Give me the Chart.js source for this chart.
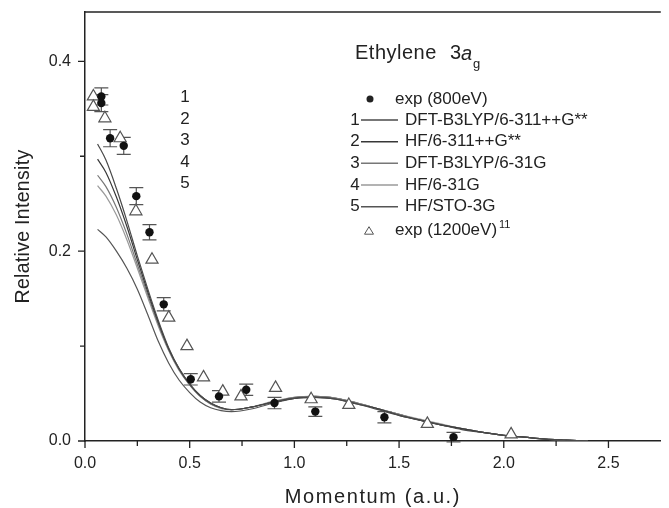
<!DOCTYPE html>
<html>
<head>
<meta charset="utf-8">
<script src="https://cdn.jsdelivr.net/npm/chart.js@4.4.1/dist/chart.umd.min.js"></script>
<style>
  html, body { margin: 0; padding: 0; background: #fff; }
  #wrap { width: 669px; height: 508px; }
</style>
</head>
<body>
<div id="wrap"><canvas id="chart" width="669" height="508"></canvas></div>
<script>
// exp (800eV) with error bars
const exp800X = [0.078, 0.078, 0.12, 0.185, 0.245, 0.308, 0.376, 0.505, 0.64, 0.77, 0.905, 1.10, 1.43, 1.76];
const exp800Y = [0.363, 0.356, 0.319, 0.311, 0.258, 0.220, 0.144, 0.065, 0.047, 0.054, 0.040, 0.031, 0.025, 0.004];
const exp800Err = [0.009, 0.009, 0.009, 0.009, 0.009, 0.008, 0.007, 0.006, 0.006, 0.006, 0.006, 0.005, 0.006, 0.005];

// exp (1200eV), ref. 11
const exp1200X = [0.04, 0.04, 0.095, 0.168, 0.243, 0.32, 0.40, 0.487, 0.566, 0.658, 0.745, 0.91, 1.08, 1.26, 1.635, 2.035];
const exp1200Y = [0.363, 0.352, 0.340, 0.319, 0.242, 0.191, 0.130, 0.100, 0.067, 0.052, 0.047, 0.056, 0.044, 0.038, 0.018, 0.007];

// theory curves, sampled on one momentum grid
const momentum = [0.06, 0.1, 0.15, 0.2, 0.25, 0.3, 0.35, 0.4, 0.45, 0.5, 0.55, 0.6, 0.65, 0.7, 0.8, 0.9, 1.0, 1.1, 1.2, 1.3, 1.4, 1.5, 1.6, 1.7, 1.8, 1.9, 2.0, 2.1, 2.2, 2.3, 2.4];
const dftB3lyp311 = [0.313, 0.296, 0.266, 0.232, 0.195, 0.160, 0.127, 0.098, 0.076, 0.060, 0.048, 0.040, 0.035, 0.033, 0.036, 0.041, 0.045, 0.046, 0.044, 0.039, 0.033, 0.027, 0.022, 0.017, 0.012, 0.009, 0.006, 0.004, 0.002, 0.001, 0.000];
const hf311 = [0.297, 0.283, 0.257, 0.226, 0.191, 0.157, 0.125, 0.097, 0.076, 0.060, 0.048, 0.040, 0.035, 0.033, 0.036, 0.041, 0.045, 0.046, 0.044, 0.039, 0.034, 0.027, 0.022, 0.017, 0.013, 0.009, 0.006, 0.004, 0.002, 0.001, 0.000];
const dftB3lyp31 = [0.280, 0.268, 0.246, 0.218, 0.186, 0.154, 0.123, 0.096, 0.075, 0.059, 0.047, 0.039, 0.035, 0.033, 0.036, 0.041, 0.046, 0.047, 0.045, 0.040, 0.034, 0.028, 0.022, 0.017, 0.013, 0.009, 0.006, 0.004, 0.002, 0.001, 0.000];
const hf31 = [0.269, 0.258, 0.238, 0.212, 0.182, 0.151, 0.121, 0.095, 0.074, 0.059, 0.047, 0.039, 0.034, 0.033, 0.036, 0.042, 0.046, 0.047, 0.045, 0.040, 0.034, 0.028, 0.023, 0.018, 0.013, 0.009, 0.006, 0.004, 0.002, 0.001, 0.000];
const hfSto = [0.223, 0.215, 0.200, 0.182, 0.160, 0.133, 0.105, 0.082, 0.064, 0.051, 0.041, 0.035, 0.032, 0.031, 0.034, 0.040, 0.045, 0.047, 0.045, 0.040, 0.034, 0.028, 0.022, 0.017, 0.013, 0.009, 0.006, 0.004, 0.002, 0.001, 0.000];

const curveNames = ['DFT-B3LYP/6-311++G**', 'HF/6-311++G**', 'DFT-B3LYP/6-31G', 'HF/6-31G', 'HF/STO-3G'];
const curveValues = [dftB3lyp311, hf311, dftB3lyp31, hf31, hfSto];
const curveColors = ['#4a4a4a', '#383838', '#777777', '#9a9a9a', '#555555'];

const xTicks = [0, 0.5, 1.0, 1.5, 2.0, 2.5];
const yTicks = [0, 0.2, 0.4];

const FONT = 'Arial, "Liberation Sans", sans-serif';
const INK = '#222';

const pts = (xs, ys) => xs.map((x, i) => ({ x, y: ys[i] }));

const curveSets = curveValues.map((vals, i) => ({
  label: curveNames[i],
  data: pts(momentum, vals),
  showLine: true,
  borderColor: curveColors[i],
  borderWidth: 1.2,
  pointRadius: 0,
  cubicInterpolationMode: 'monotone',
}));

// keep the plot box fixed: no extra room for edge labels
const fixBox = (s, size) => {
  if (s.isHorizontal()) s.height = size; else s.width = size;
  s.paddingTop = 0; s.paddingBottom = 0; s.paddingLeft = 0; s.paddingRight = 0;
};

const overlay = {
  id: 'overlay',
  beforeDatasetsDraw(chart) {
    const { ctx } = chart;
    const xs = chart.scales.x, ys = chart.scales.y;
    ctx.save();
    ctx.strokeStyle = '#555';
    ctx.lineWidth = 1.2;
    exp800X.forEach((x, i) => {
      const px = xs.getPixelForValue(x);
      const top = ys.getPixelForValue(exp800Y[i] + exp800Err[i]);
      const bot = ys.getPixelForValue(exp800Y[i] - exp800Err[i]);
      ctx.beginPath();
      ctx.moveTo(px, top); ctx.lineTo(px, bot);
      ctx.moveTo(px - 7, top); ctx.lineTo(px + 7, top);
      ctx.moveTo(px - 7, bot); ctx.lineTo(px + 7, bot);
      ctx.stroke();
    });
    ctx.restore();
  },
  afterDraw(chart) {
    const { ctx, chartArea: a } = chart;
    const xs = chart.scales.x, ys = chart.scales.y;
    ctx.save();
    ctx.strokeStyle = INK;
    ctx.lineWidth = 1.5;
    // top frame
    ctx.beginPath();
    ctx.moveTo(a.left, a.top); ctx.lineTo(a.right, a.top);
    ctx.stroke();
    // tick marks, major and minor
    ctx.lineWidth = 1.3;
    ctx.beginPath();
    xTicks.forEach(v => {
      const px = xs.getPixelForValue(v);
      ctx.moveTo(px, a.bottom); ctx.lineTo(px, a.bottom + 7);
      const pm = xs.getPixelForValue(v + 0.25);
      if (pm < a.right) { ctx.moveTo(pm, a.bottom); ctx.lineTo(pm, a.bottom + 5); }
    });
    yTicks.forEach(v => {
      const py = ys.getPixelForValue(v);
      ctx.moveTo(a.left, py); ctx.lineTo(a.left - 7, py);
      const pm = ys.getPixelForValue(v + 0.1);
      if (pm > a.top) { ctx.moveTo(a.left, pm); ctx.lineTo(a.left - 5, pm); }
    });
    ctx.stroke();

    ctx.fillStyle = INK;
    ctx.textBaseline = 'middle';

    // axis titles
    ctx.font = '20px ' + FONT;
    ctx.letterSpacing = '1.6px';
    ctx.textAlign = 'center';
    ctx.fillText('Momentum (a.u.)', (a.left + a.right) / 2, 497);
    ctx.save();
    ctx.translate(24, (a.top + a.bottom) / 2);
    ctx.rotate(-Math.PI / 2);
    ctx.font = '19.5px ' + FONT;
    ctx.letterSpacing = '0.3px';
    ctx.fillText('Relative Intensity', 0, 0);
    ctx.restore();

    // title
    ctx.textAlign = 'left';
    ctx.letterSpacing = '0.5px';
    ctx.font = '20px ' + FONT;
    ctx.fillText('Ethylene', 355, 53);
    ctx.letterSpacing = '0px';
    ctx.fillText('3', 450, 53);
    ctx.font = 'italic 20px ' + FONT;
    ctx.fillText('a', 461, 54);
    ctx.font = '13px ' + FONT;
    ctx.fillText('g', 473, 64);

    // curve numbers inside the plot
    ctx.font = '17px ' + FONT;
    ctx.textAlign = 'center';
    [97, 119, 140, 162, 183].forEach((y, i) => ctx.fillText(String(i + 1), 185, y));

    // legend
    const rows = [99, 120, 141.7, 163.3, 185, 206.7, 230.7];
    ctx.beginPath();
    ctx.arc(370, rows[0], 3.5, 0, Math.PI * 2);
    ctx.fill();
    ctx.textAlign = 'left';
    ctx.fillText('exp (800eV)', 395, rows[0]);
    curveNames.forEach((name, i) => {
      const y = rows[i + 1];
      ctx.textAlign = 'center';
      ctx.fillText(String(i + 1), 355, y);
      ctx.strokeStyle = curveColors[i];
      ctx.lineWidth = 1.4;
      ctx.beginPath();
      ctx.moveTo(361, y); ctx.lineTo(398, y);
      ctx.stroke();
      ctx.textAlign = 'left';
      ctx.fillText(name, 405, y);
    });
    const ty = rows[6];
    ctx.strokeStyle = '#555';
    ctx.lineWidth = 1;
    ctx.beginPath();
    ctx.moveTo(369, ty - 4); ctx.lineTo(373.5, ty + 3.5); ctx.lineTo(364.5, ty + 3.5); ctx.closePath();
    ctx.stroke();
    ctx.fillText('exp (1200eV)', 395, ty);
    const w = ctx.measureText('exp (1200eV)').width;
    ctx.font = '11px ' + FONT;
    ctx.fillText('11', 395 + w + 2, ty - 6);
    ctx.restore();
  },
};

new Chart(document.getElementById('chart'), {
  type: 'scatter',
  data: {
    datasets: [
      {
        label: 'exp (800eV)',
        data: pts(exp800X, exp800Y),
        pointStyle: 'circle',
        pointRadius: 4.2,
        backgroundColor: '#111',
        borderColor: '#111',
        borderWidth: 0,
      },
      {
        label: 'exp (1200eV)',
        data: pts(exp1200X, exp1200Y),
        pointStyle: 'triangle',
        pointRadius: 7,
        backgroundColor: '#fff',
        borderColor: '#555',
        borderWidth: 1.2,
      },
      ...curveSets,
    ],
  },
  options: {
    responsive: false,
    animation: false,
    layout: { padding: { top: 12, right: 0, left: 0, bottom: 0 } },
    plugins: { legend: { display: false }, tooltip: { enabled: false } },
    scales: {
      x: {
        type: 'linear',
        min: 0,
        max: 2.75,
        afterFit: (s) => fixBox(s, 67),
        afterBuildTicks: (s) => { s.ticks = xTicks.map(v => ({ value: v })); },
        grid: { display: true, drawOnChartArea: false, drawTicks: false },
        border: { display: true, color: INK, width: 1.5 },
        ticks: {
          padding: 13,
          color: INK,
          font: { family: FONT, size: 16 },
          callback: (v) => Number(v).toFixed(1),
        },
      },
      y: {
        type: 'linear',
        min: 0,
        max: 0.452,
        afterFit: (s) => fixBox(s, 85),
        afterBuildTicks: (s) => { s.ticks = yTicks.map(v => ({ value: v })); },
        grid: { display: true, drawOnChartArea: false, drawTicks: false },
        border: { display: true, color: INK, width: 1.5 },
        ticks: {
          padding: 14,
          color: INK,
          font: { family: FONT, size: 16 },
          callback: (v) => Number(v).toFixed(1),
        },
      },
    },
  },
  plugins: [overlay],
});
</script>
</body>
</html>
